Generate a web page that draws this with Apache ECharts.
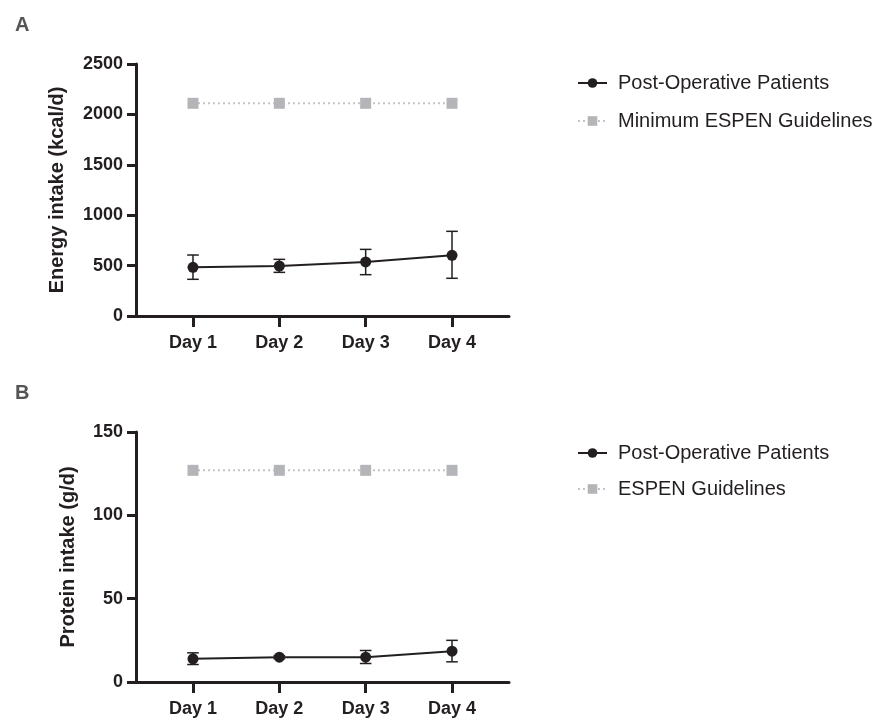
<!DOCTYPE html>
<html>
<head>
<meta charset="utf-8">
<script src="https://cdn.jsdelivr.net/npm/echarts@6/dist/echarts.min.js"></script>
<style>
html,body{margin:0;padding:0;background:#fff;}
#c{width:875px;height:718px;}
</style>
</head>
<body>
<div id="c"></div>
<script>
const days = ['Day 1', 'Day 2', 'Day 3', 'Day 4'];
// Panel A: energy intake (kcal/d)
const energyMean = [483, 496, 536, 602];
const energyLow = [364, 433, 410, 374];
const energyHigh = [605, 562, 661, 840];
const energyEspen = [2110, 2110, 2110, 2110];
// Panel B: protein intake (g/d)
const proteinMean = [13.9, 14.9, 14.9, 18.5];
const proteinLow = [10.5, 14.0, 11.1, 12.1];
const proteinHigh = [17.5, 15.8, 18.9, 25.0];
const proteinEspen = [127, 127, 127, 127];
const energyTicks = [0, 500, 1000, 1500, 2000, 2500];
const proteinTicks = [0, 50, 100, 150];

const FONT = 'Liberation Sans, Arial, Helvetica, sans-serif';
const INK = '#231f20';
const GREY = '#b4b5b8';

const pts = arr => arr.map((v, i) => [i + 1, v]);
const errs = (lo, hi) => lo.map((v, i) => [i + 1, v, hi[i]]);

function errRender(params, api) {
  const x = api.value(0);
  const p1 = api.coord([x, api.value(1)]);
  const p2 = api.coord([x, api.value(2)]);
  const w = 5.8;
  const style = { stroke: INK, lineWidth: 1.5, fill: null };
  return {
    type: 'group',
    children: [
      { type: 'line', shape: { x1: p1[0], y1: p1[1], x2: p2[0], y2: p2[1] }, style },
      { type: 'line', shape: { x1: p1[0] - w, y1: p1[1], x2: p1[0] + w, y2: p1[1] }, style },
      { type: 'line', shape: { x1: p2[0] - w, y1: p2[1], x2: p2[0] + w, y2: p2[1] }, style }
    ]
  };
}

function xAxis(gi) {
  return {
    type: 'value', gridIndex: gi, min: 0.34, max: 4.66,
    axisLine: { show: true, lineStyle: { color: INK, width: 3 } },
    axisTick: { show: true, customValues: [1, 2, 3, 4], length: 11, lineStyle: { color: INK, width: 3 } },
    axisLabel: { customValues: [1, 2, 3, 4], formatter: v => days[Math.round(v) - 1] || '',
      color: INK, fontFamily: FONT, fontWeight: 'bold', fontSize: 18, margin: 18 },
    splitLine: { show: false }
  };
}
function yAxis(gi, ticks, name, gap) {
  return {
    type: 'value', gridIndex: gi, min: ticks[0], max: ticks[ticks.length - 1],
    interval: ticks[1] - ticks[0],
    name: name, nameLocation: 'middle', nameGap: gap,
    nameTextStyle: { color: INK, fontFamily: FONT, fontWeight: 'bold', fontSize: 20 },
    axisLine: { show: true, lineStyle: { color: INK, width: 3 } },
    axisTick: { show: true, length: 9, lineStyle: { color: INK, width: 3 } },
    axisLabel: { color: INK, fontFamily: FONT, fontWeight: 'bold', fontSize: 18, margin: 13,
      formatter: v => String(v) },
    splitLine: { show: false }
  };
}
function legend(top, names, gap) {
  return {
    orient: 'vertical', left: 572, top: top, itemWidth: 29, itemHeight: 12, itemGap: gap,
    data: names, selectedMode: false,
    textStyle: { color: INK, fontFamily: FONT, fontSize: 20, padding: [0, 0, 0, 6] }
  };
}

const chart = echarts.init(document.getElementById('c'), null, { renderer: 'canvas' });
chart.setOption({
  animation: false,
  backgroundColor: '#fff',
  title: [
    { text: 'A', left: 10, top: 10, textStyle: { color: '#555', fontFamily: FONT, fontWeight: 'bold', fontSize: 20 } },
    { text: 'B', left: 10, top: 378, textStyle: { color: '#555', fontFamily: FONT, fontWeight: 'bold', fontSize: 20 } }
  ],
  legend: [
    legend(68, ['Post-Operative Patients', 'Minimum ESPEN Guidelines'], 18),
    legend(438, ['Post-Operative Patients', 'ESPEN Guidelines'], 16)
  ],
  grid: [
    { left: 136, top: 64, width: 373, height: 252 },
    { left: 136, top: 432, width: 373, height: 252 }
  ],
  xAxis: [xAxis(0), xAxis(1)],
  yAxis: [
    yAxis(0, energyTicks, 'Energy intake (kcal/d)', 69),
    yAxis(1, proteinTicks, 'Protein intake (g/d)', 58)
  ],
  series: [
    { name: 'Minimum ESPEN Guidelines', type: 'line', xAxisIndex: 0, yAxisIndex: 0, data: pts(energyEspen),
      symbol: 'rect', symbolSize: 11, itemStyle: { color: GREY },
      lineStyle: { color: '#c4c4c6', width: 2, type: [2, 3] } },
    { type: 'custom', xAxisIndex: 0, yAxisIndex: 0, data: errs(energyLow, energyHigh), renderItem: errRender, z: 3 },
    { name: 'Post-Operative Patients', type: 'line', xAxisIndex: 0, yAxisIndex: 0, data: pts(energyMean),
      symbol: 'circle', symbolSize: 11, itemStyle: { color: INK },
      lineStyle: { color: INK, width: 2 }, z: 4 },

    { name: 'ESPEN Guidelines', type: 'line', xAxisIndex: 1, yAxisIndex: 1, data: pts(proteinEspen),
      symbol: 'rect', symbolSize: 11, itemStyle: { color: GREY },
      lineStyle: { color: '#c4c4c6', width: 2, type: [2, 3] } },
    { type: 'custom', xAxisIndex: 1, yAxisIndex: 1, data: errs(proteinLow, proteinHigh), renderItem: errRender, z: 3 },
    { name: 'Post-Operative Patients', type: 'line', xAxisIndex: 1, yAxisIndex: 1, data: pts(proteinMean),
      symbol: 'circle', symbolSize: 11, itemStyle: { color: INK },
      lineStyle: { color: INK, width: 2 }, z: 4 }
  ]
});
</script>
</body>
</html>
